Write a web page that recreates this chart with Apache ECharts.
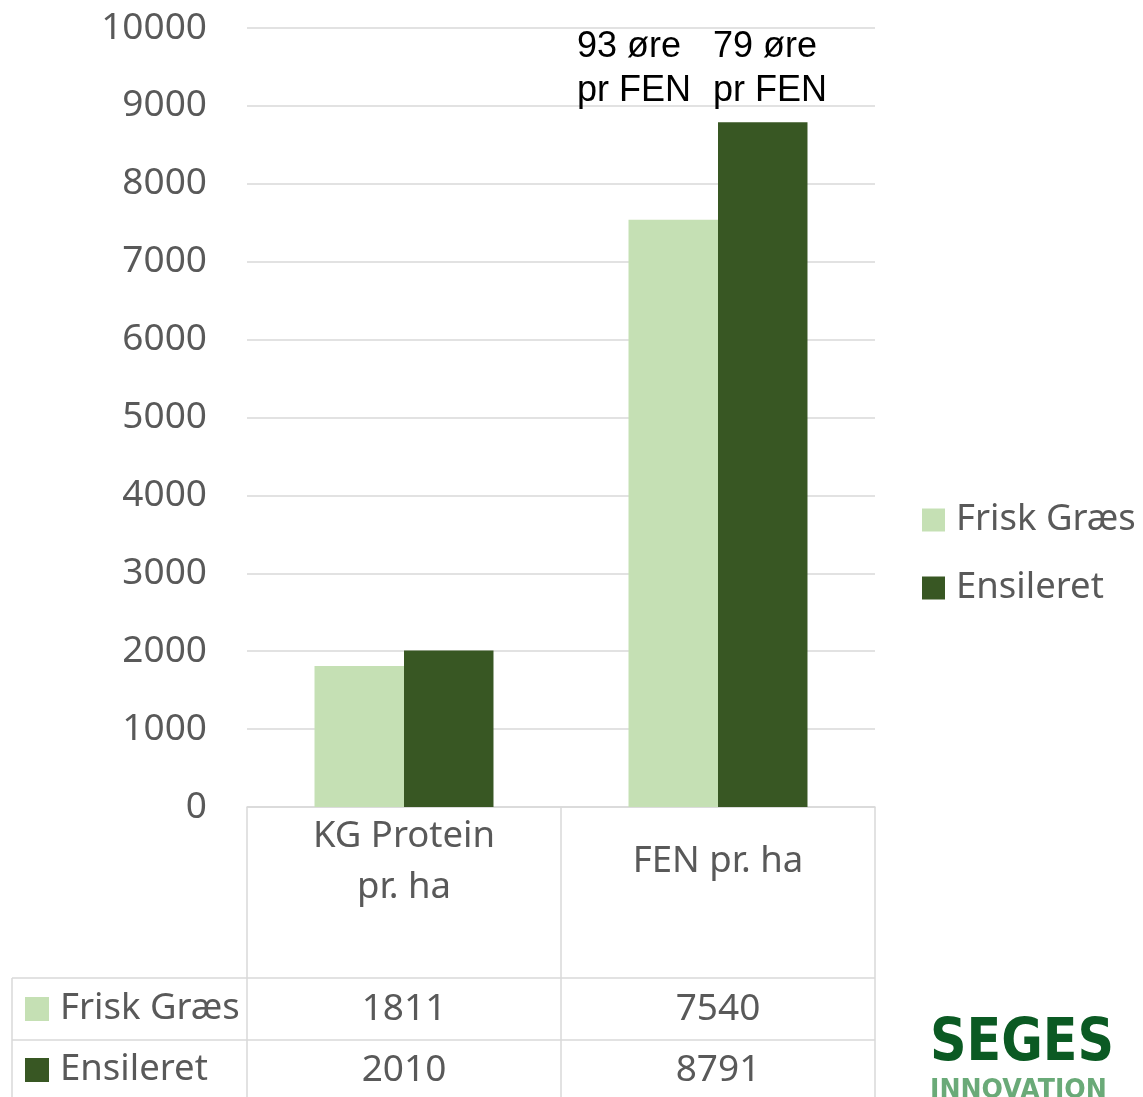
<!DOCTYPE html>
<html>
<head>
    <meta charset="utf-8">
    <title>Frisk græs vs ensileret</title>
    <script src="https://cdn.jsdelivr.net/npm/echarts@6/dist/echarts.min.js"></script>
    <style>
        html, body { margin: 0; padding: 0; background: #fff; }
        #main { width: 1143px; height: 1097px; }
    </style>
</head>
<body>
    <div id="main"></div>
    <script type="text/javascript">
        // data
        var categories = ['KG Protein\npr. ha', 'FEN pr. ha'];
        var seriesNames = ['Frisk Græs', 'Ensileret'];
        var friskGraes = [1811, 7540];
        var ensileret = [2010, 8791];
        var seriesColors = ['#C5E0B4', '#385723'];
        var notes = ['93 øre\npr FEN', '79 øre\npr FEN'];

        var font = '"Noto Sans", "Open Sans", sans-serif';
        var txtColor = '#595959';
        var lineColor = '#D9D9D9';

        var myChart = echarts.init(document.getElementById('main'));

        var option = {
            animation: false,
            grid: { left: 247, right: 268, top: 28, bottom: 290 },
            legend: {
                orient: 'vertical',
                left: 922,
                top: 500,
                padding: 0,
                itemWidth: 23,
                itemHeight: 23,
                itemGap: 28,
                icon: 'rect',
                data: seriesNames,
                textStyle: { fontFamily: font, fontSize: 36.5, color: txtColor, lineHeight: 40, padding: [0, 0, 0, 6] }
            },
            xAxis: {
                type: 'category',
                data: categories,
                axisLine: { lineStyle: { color: lineColor, width: 1.5 } },
                axisTick: { show: false },
                axisLabel: { show: false }
            },
            yAxis: {
                type: 'value',
                min: 0,
                max: 10000,
                interval: 1000,
                axisLine: { show: false },
                axisTick: { show: false },
                axisLabel: { fontFamily: font, fontSize: 37, color: txtColor, margin: 40,
                    formatter: function (v) { return String(v); } },
                splitLine: { lineStyle: { color: lineColor, width: 1.5 } }
            },
            series: [
                { name: seriesNames[0], type: 'bar', data: friskGraes, barGap: '0%', barCategoryGap: '43%',
                  itemStyle: { color: seriesColors[0] } },
                { name: seriesNames[1], type: 'bar', data: ensileret, barGap: '0%', barCategoryGap: '43%',
                  itemStyle: { color: seriesColors[1] } }
            ]
        };
        myChart.setOption(option);

        // data table under the chart
        var tLeft = 12, gLeft = 247, gRight = 875, axisY = 807, row1 = 978, row2 = 1040, tBottom = 1097;
        var gMid = (gLeft + gRight) / 2;
        var lineStyle = { stroke: lineColor, lineWidth: 1.5 };
        var g = [];
        function hline(x1, x2, y) { g.push({ type: 'line', shape: { x1: x1, y1: y, x2: x2, y2: y }, style: lineStyle }); }
        function vline(x, y1, y2) { g.push({ type: 'line', shape: { x1: x, y1: y1, x2: x, y2: y2 }, style: lineStyle }); }
        vline(gLeft, axisY, tBottom);
        vline(gMid, axisY, tBottom);
        vline(gRight, axisY, tBottom);
        vline(tLeft, row1, tBottom);
        hline(tLeft, gRight, row1);
        hline(tLeft, gRight, row2);

        var rows = [friskGraes, ensileret];
        var rowY = [1009, 1070];
        categories.forEach(function (c, i) {
            var x = myChart.convertToPixel({ xAxisIndex: 0 }, i);
            g.push({ type: 'text', x: x, y: 862, style: { text: c, font: '36.5px ' + font, fill: txtColor,
                align: 'center', verticalAlign: 'middle', lineHeight: 51 } });
            rows.forEach(function (r, k) {
                g.push({ type: 'text', x: x, y: rowY[k], style: { text: String(r[i]), font: '37px ' + font,
                    fill: txtColor, align: 'center', verticalAlign: 'middle' } });
            });
        });
        seriesNames.forEach(function (n, k) {
            g.push({ type: 'rect', shape: { x: 25, y: rowY[k] - 12, width: 24, height: 24 }, style: { fill: seriesColors[k] } });
            g.push({ type: 'text', x: 60, y: rowY[k], style: { text: n, font: '36.5px ' + font, fill: txtColor,
                align: 'left', verticalAlign: 'middle' } });
        });

        // price notes above the FEN bars
        var fenX = myChart.convertToPixel({ xAxisIndex: 0 }, 1);
        notes.forEach(function (t, k) {
            g.push({ type: 'text', x: fenX - 141 + k * 136, y: 69, style: { text: t, font: '36px "Liberation Sans", Arial, sans-serif',
                fill: '#000', align: 'left', verticalAlign: 'middle', lineHeight: 44 } });
        });

        // logo
        g.push({ type: 'text', x: 930, y: 1045, scaleX: 0.86, style: { text: 'SEGES', font: 'bold 59px "DejaVu Sans", sans-serif',
            fill: '#0B5A23', align: 'left', verticalAlign: 'middle' } });
        g.push({ type: 'text', x: 930, y: 1078, scaleX: 0.97, style: { text: 'INNOVATION', font: 'bold 26px "DejaVu Sans", sans-serif',
            fill: '#6AAA78', align: 'left', verticalAlign: 'top' } });

        myChart.setOption({ graphic: g });
    </script>
</body>
</html>
